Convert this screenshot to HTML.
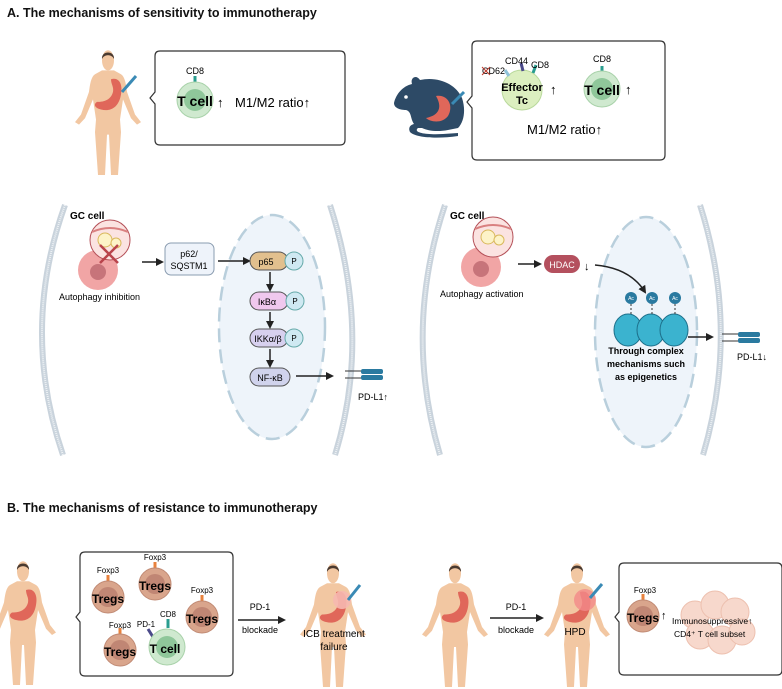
<!DOCTYPE html>
<html><head><meta charset="utf-8"><style>
html,body{margin:0;padding:0;background:#fff}
svg{display:block;font-family:"Liberation Sans",sans-serif}
</style></head><body>
<svg width="782" height="689" viewBox="0 0 782 689" xmlns="http://www.w3.org/2000/svg">
<defs>
<marker id="ah" markerWidth="8" markerHeight="8" refX="6" refY="4" orient="auto" markerUnits="userSpaceOnUse"><path d="M0,0 L8,4 L0,8 z" fill="#222"/></marker>
<g id="human">
 <path d="M29,17 L41,17 L48,20 C52,22 53,28 54,34 L62,52 L68,58 L64,60 L58,55 L50,40 L47,56 L48,66 L45,100 L38,100 L36,68 L34,68 L32,100 L25,100 L22,66 L23,56 L20,40 L12,55 L6,60 L2,58 L8,52 L16,34 C17,28 18,22 22,20 Z" fill="#f2c7a2"/>
 <ellipse cx="35" cy="9" rx="6" ry="8" fill="#f2c7a2"/>
 <path d="M29,8 C28,1 42,1 41,8 C39,4 31,4 29,8 Z" fill="#4a3a30"/>
</g>
<g id="stomach"><path d="M38,24 C46,22 50,28 48,36 C46,46 38,50 28,48 C22,47 20,44 24,42 C32,42 38,40 40,34 C41,30 38,28 38,24 Z" fill="#e0675a"/></g>
<g id="treg"><line x1="0" y1="-22" x2="0" y2="-15" stroke="#e8823d" stroke-width="3"/><circle r="16" fill="#d9a58c" stroke="#c08a74"/><circle r="10" fill="#c08674"/></g>
<g id="tcell"><circle r="18" fill="#cfe9cf" stroke="#a9d2aa"/><circle r="11" fill="#8fc79a"/></g>
<g id="rec"><rect x="0" y="0" width="22" height="5" rx="2" fill="#2a7aa0"/><rect x="0" y="6" width="22" height="5" rx="2" fill="#2a7aa0"/><line x1="-16" y1="2" x2="0" y2="2" stroke="#333"/><line x1="-16" y1="9" x2="0" y2="9" stroke="#333"/></g>
<g id="auto"><circle cx="-12" cy="30" r="20" fill="#f1a5a5"/><circle cx="-12" cy="32" r="8" fill="#c7747a"/><circle cx="0" cy="0" r="20" fill="#fbe3e1" stroke="#b45058"/><path d="M-18,-8 Q0,-16 18,-8" stroke="#d98080" fill="none" stroke-width="2"/><circle cx="-5" cy="0" r="7" fill="#fdf3c8" stroke="#d9b85c"/><circle cx="6" cy="3" r="5" fill="#fdf3c8" stroke="#d9b85c"/></g>
</defs>

<text x="7" y="17" font-size="12.5" font-weight="bold" fill="#111">A. The mechanisms of sensitivity to immunotherapy</text>

<!-- top human -->
<use href="#human" transform="translate(73,49) scale(1,1.26)"/>
<use href="#stomach" transform="translate(73,49) scale(1,1.26)"/>
<line x1="122" y1="92" x2="136" y2="76" stroke="#3a8ab5" stroke-width="3"/>
<path d="M160,51 H340 Q345,51 345,56 V140 Q345,145 340,145 H160 Q155,145 155,140 V104 L150,98 L155,92 V56 Q155,51 160,51Z" fill="#fff" stroke="#333" stroke-width="1.2"/>
<line x1="195" y1="76" x2="195" y2="84" stroke="#2a9d8f" stroke-width="3"/>
<text x="195" y="74" font-size="9" text-anchor="middle">CD8</text>
<use href="#tcell" transform="translate(195,100)"/>
<text x="195" y="106" font-size="14" font-weight="bold" text-anchor="middle">T cell</text>
<text x="217" y="107" font-size="13">↑</text>
<text x="235" y="107" font-size="13">M1/M2 ratio↑</text>

<!-- mouse -->
<path d="M394,103 C396,94 403,86 412,84 C410,78 416,74 420,80 C438,76 456,84 462,98 C466,110 464,122 458,128 L448,130 C438,132 428,131 422,128 L418,128 C413,132 423,135 443,134 L458,133 L458,136 C438,139 416,138 410,132 C408,128 410,125 414,124 C410,118 412,112 406,110 C400,110 394,108 394,103Z" fill="#2d4a66"/>
<circle cx="406" cy="97" r="1.8" fill="#fff"/>
<path d="M436,96 C448,94 454,106 448,116 C442,124 430,122 426,118 C436,116 444,110 436,96Z" fill="#e0675a"/>
<line x1="452" y1="104" x2="464" y2="92" stroke="#3a8ab5" stroke-width="3"/>
<path d="M477,41 H660 Q665,41 665,46 V155 Q665,160 660,160 H477 Q472,160 472,155 V108 L467,102 L472,96 V46 Q472,41 477,41Z" fill="#fff" stroke="#333" stroke-width="1.2"/>
<circle cx="522" cy="90" r="20" fill="#dcefc0" stroke="#b9d99c"/>
<line x1="521" y1="63" x2="523" y2="71" stroke="#4b4a8a" stroke-width="3"/>
<line x1="536" y1="65" x2="533" y2="73" stroke="#2a9d8f" stroke-width="3"/>
<line x1="505" y1="70" x2="509" y2="76" stroke="#8fc2d8" stroke-width="3"/>
<text x="505" y="64" font-size="9">CD44</text><text x="531" y="68" font-size="9">CD8</text>
<text x="482" y="74" font-size="9">CD62</text>
<path d="M482,67 l8,8 M490,67 l-8,8" stroke="#c0392b"/>
<text x="522" y="91" font-size="11" font-weight="bold" text-anchor="middle">Effector</text>
<text x="522" y="104" font-size="11" font-weight="bold" text-anchor="middle">Tc</text>
<text x="550" y="94" font-size="13">↑</text>
<line x1="602" y1="66" x2="602" y2="73" stroke="#2a9d8f" stroke-width="3"/>
<text x="602" y="62" font-size="9" text-anchor="middle">CD8</text>
<use href="#tcell" transform="translate(602,89)"/>
<text x="602" y="95" font-size="14" font-weight="bold" text-anchor="middle">T cell</text>
<text x="625" y="94" font-size="13">↑</text>
<text x="527" y="134" font-size="13">M1/M2 ratio↑</text>

<!-- left cell -->
<path d="M65,205 Q20,330 63,455" fill="none" stroke="#c9d3dc" stroke-width="6"/>
<path d="M65,205 Q20,330 63,455" fill="none" stroke="#eef2f5" stroke-width="2" stroke-dasharray="1 1"/>
<path d="M330,205 Q372,335 335,455" fill="none" stroke="#c9d3dc" stroke-width="6"/>
<path d="M330,205 Q372,335 335,455" fill="none" stroke="#eef2f5" stroke-width="2" stroke-dasharray="1 1"/>
<ellipse cx="272" cy="327" rx="53" ry="112" fill="#eef4fa" stroke="#b9cfdc" stroke-width="2.5" stroke-dasharray="14 7"/>
<text x="70" y="219" font-size="10" font-weight="bold">GC cell</text>
<use href="#auto" transform="translate(110,240)"/>
<path d="M100,245 l18,18 M118,245 l-18,18" stroke="#b9444c" stroke-width="2.5"/>
<text x="59" y="300" font-size="9">Autophagy inhibition</text>
<line x1="142" y1="262" x2="162" y2="262" stroke="#222" stroke-width="1.5" marker-end="url(#ah)"/>
<rect x="165" y="243" width="49" height="32" rx="6" fill="#eef3fa" stroke="#8a9cb0"/>
<text x="189" y="257" font-size="9" text-anchor="middle">p62/</text>
<text x="189" y="269" font-size="9" text-anchor="middle">SQSTM1</text>
<line x1="218" y1="261" x2="249" y2="261" stroke="#222" stroke-width="1.5" marker-end="url(#ah)"/>
<rect x="250" y="252" width="38" height="18" rx="9" fill="#e2c08e" stroke="#555"/>
<text x="266" y="265" font-size="9" text-anchor="middle">p65</text>
<circle cx="294" cy="261" r="9" fill="#cfe9f2" stroke="#6aa"/><text x="294" y="264" font-size="8" text-anchor="middle">P</text>
<rect x="250" y="292" width="38" height="18" rx="9" fill="#f0c8ee" stroke="#555"/>
<text x="267" y="305" font-size="9" text-anchor="middle">IκBα</text>
<circle cx="295" cy="301" r="9" fill="#cfe9f2" stroke="#6aa"/><text x="295" y="304" font-size="8" text-anchor="middle">P</text>
<rect x="250" y="329" width="38" height="18" rx="9" fill="#d7d0ef" stroke="#555"/>
<text x="268" y="342" font-size="9" text-anchor="middle">IKKα/β</text>
<circle cx="294" cy="338" r="9" fill="#cfe9f2" stroke="#6aa"/><text x="294" y="341" font-size="8" text-anchor="middle">P</text>
<rect x="250" y="368" width="40" height="18" rx="9" fill="#d0d3ec" stroke="#555"/>
<text x="270" y="381" font-size="9" text-anchor="middle">NF-κB</text>
<line x1="270" y1="272" x2="270" y2="290" stroke="#222" stroke-width="1.5" marker-end="url(#ah)"/>
<line x1="270" y1="312" x2="270" y2="327" stroke="#222" stroke-width="1.5" marker-end="url(#ah)"/>
<line x1="270" y1="349" x2="270" y2="366" stroke="#222" stroke-width="1.5" marker-end="url(#ah)"/>
<line x1="296" y1="376" x2="332" y2="376" stroke="#222" stroke-width="1.5" marker-end="url(#ah)"/>
<use href="#rec" transform="translate(361,369)"/>
<text x="358" y="400" font-size="9">PD-L1↑</text>

<!-- right cell -->
<path d="M445,205 Q403,330 440,455" fill="none" stroke="#c9d3dc" stroke-width="6"/>
<path d="M445,205 Q403,330 440,455" fill="none" stroke="#eef2f5" stroke-width="2" stroke-dasharray="1 1"/>
<path d="M700,205 Q740,330 703,455" fill="none" stroke="#c9d3dc" stroke-width="6"/>
<path d="M700,205 Q740,330 703,455" fill="none" stroke="#eef2f5" stroke-width="2" stroke-dasharray="1 1"/>
<ellipse cx="646" cy="332" rx="51" ry="115" fill="#eef4fa" stroke="#b9cfdc" stroke-width="2.5" stroke-dasharray="14 7"/>
<text x="450" y="219" font-size="10" font-weight="bold">GC cell</text>
<use href="#auto" transform="translate(493,237)"/>
<text x="440" y="297" font-size="9">Autophagy activation</text>
<line x1="518" y1="264" x2="540" y2="264" stroke="#222" stroke-width="1.5" marker-end="url(#ah)"/>
<rect x="544" y="255" width="36" height="18" rx="9" fill="#b4505e"/>
<text x="562" y="268" font-size="9" fill="#fff" text-anchor="middle">HDAC</text>
<text x="584" y="270" font-size="11">↓</text>
<path d="M595,265 Q630,268 645,292" fill="none" stroke="#222" stroke-width="1.5" marker-end="url(#ah)"/>
<g fill="#3bb3cf" stroke="#1d6f8a">
<ellipse cx="628" cy="330" rx="14" ry="16"/><ellipse cx="651" cy="330" rx="14" ry="16"/><ellipse cx="674" cy="330" rx="14" ry="16"/>
</g>
<g stroke="#333" stroke-dasharray="2 2"><line x1="631" y1="304" x2="631" y2="315"/><line x1="652" y1="304" x2="652" y2="315"/><line x1="675" y1="304" x2="675" y2="315"/></g>
<g fill="#2a7aa0"><circle cx="631" cy="298" r="6"/><circle cx="652" cy="298" r="6"/><circle cx="675" cy="298" r="6"/></g>
<g font-size="5" fill="#fff" text-anchor="middle"><text x="631" y="300">Ac</text><text x="652" y="300">Ac</text><text x="675" y="300">Ac</text></g>
<g font-size="9" font-weight="bold" text-anchor="middle"><text x="646" y="354">Through complex</text><text x="646" y="367">mechanisms such</text><text x="646" y="380">as epigenetics</text></g>
<line x1="688" y1="337" x2="712" y2="337" stroke="#222" stroke-width="1.5" marker-end="url(#ah)"/>
<use href="#rec" transform="translate(738,332)"/>
<text x="737" y="360" font-size="9">PD-L1↓</text>

<text x="7" y="512" font-size="12.5" font-weight="bold" fill="#111">B. The mechanisms of resistance to immunotherapy</text>

<!-- bottom -->
<use href="#human" transform="translate(-12,560) scale(1,1.25)"/>
<use href="#stomach" transform="translate(-12,560) scale(1,1.25)"/>
<path d="M85,552 H228 Q233,552 233,557 V671 Q233,676 228,676 H85 Q80,676 80,671 V622 L76,617 L80,612 V557 Q80,552 85,552Z" fill="#fff" stroke="#333" stroke-width="1.2"/>
<use href="#treg" transform="translate(108,597)"/><text x="108" y="603" font-size="12" font-weight="bold" text-anchor="middle">Tregs</text><text x="108" y="573" font-size="8" text-anchor="middle">Foxp3</text>
<use href="#treg" transform="translate(155,584)"/><text x="155" y="590" font-size="12" font-weight="bold" text-anchor="middle">Tregs</text><text x="155" y="560" font-size="8" text-anchor="middle">Foxp3</text>
<use href="#treg" transform="translate(202,617)"/><text x="202" y="623" font-size="12" font-weight="bold" text-anchor="middle">Tregs</text><text x="202" y="593" font-size="8" text-anchor="middle">Foxp3</text>
<use href="#treg" transform="translate(120,650)"/><text x="120" y="656" font-size="12" font-weight="bold" text-anchor="middle">Tregs</text><text x="120" y="628" font-size="8" text-anchor="middle">Foxp3</text>
<line x1="168" y1="619" x2="168" y2="628" stroke="#2a9d8f" stroke-width="3"/>
<line x1="148" y1="629" x2="153" y2="637" stroke="#4b4a8a" stroke-width="3"/>
<use href="#tcell" transform="translate(167,647)"/>
<text x="165" y="653" font-size="12" font-weight="bold" text-anchor="middle">T cell</text>
<text x="168" y="617" font-size="8" text-anchor="middle">CD8</text>
<text x="146" y="627" font-size="8" text-anchor="middle">PD-1</text>
<line x1="238" y1="620" x2="284" y2="620" stroke="#222" stroke-width="1.5" marker-end="url(#ah)"/>
<text x="260" y="610" font-size="9" text-anchor="middle">PD-1</text>
<text x="260" y="633" font-size="9" text-anchor="middle">blockade</text>
<use href="#human" transform="translate(298,562) scale(1,1.25)"/>
<use href="#stomach" transform="translate(298,562) scale(1,1.25)"/>
<circle cx="342" cy="600" r="9" fill="#f6b8b0" opacity="0.9"/>
<line x1="348" y1="600" x2="360" y2="585" stroke="#3a8ab5" stroke-width="3"/>
<text x="334" y="637" font-size="10" text-anchor="middle">ICB treatment</text>
<text x="334" y="650" font-size="10" text-anchor="middle">failure</text>
<use href="#human" transform="translate(420,562) scale(1,1.25)"/>
<use href="#stomach" transform="translate(420,562) scale(1,1.25)"/>
<line x1="490" y1="618" x2="542" y2="618" stroke="#222" stroke-width="1.5" marker-end="url(#ah)"/>
<text x="516" y="610" font-size="9" text-anchor="middle">PD-1</text>
<text x="516" y="633" font-size="9" text-anchor="middle">blockade</text>
<use href="#human" transform="translate(542,562) scale(1,1.25)"/>
<use href="#stomach" transform="translate(542,562) scale(1,1.25)"/>
<circle cx="585" cy="600" r="11" fill="#f28a8a" opacity="0.8"/>
<line x1="590" y1="598" x2="602" y2="584" stroke="#3a8ab5" stroke-width="3"/>
<text x="575" y="635" font-size="10" text-anchor="middle">HPD</text>
<path d="M624,563 H777 Q782,563 782,568 V670 Q782,675 777,675 H624 Q619,675 619,670 V622 L615,617 L619,612 V568 Q619,563 624,563Z" fill="#fff" stroke="#333" stroke-width="1.2"/>
<g fill="#f6d2c4" stroke="#ebb6a2" opacity="0.85">
<circle cx="695" cy="615" r="14"/><circle cx="715" cy="605" r="14"/><circle cx="735" cy="612" r="14"/><circle cx="700" cy="635" r="14"/><circle cx="722" cy="640" r="14"/><circle cx="742" cy="632" r="13"/>
</g>
<use href="#treg" transform="translate(643,616)"/><text x="643" y="622" font-size="12" font-weight="bold" text-anchor="middle">Tregs</text><text x="645" y="593" font-size="8" text-anchor="middle">Foxp3</text>
<text x="661" y="619" font-size="11">↑</text>
<text x="672" y="624" font-size="8.5">Immunosuppressive↑</text>
<text x="674" y="637" font-size="8.5">CD4⁺ T cell subset</text>
</svg>
</body></html>
